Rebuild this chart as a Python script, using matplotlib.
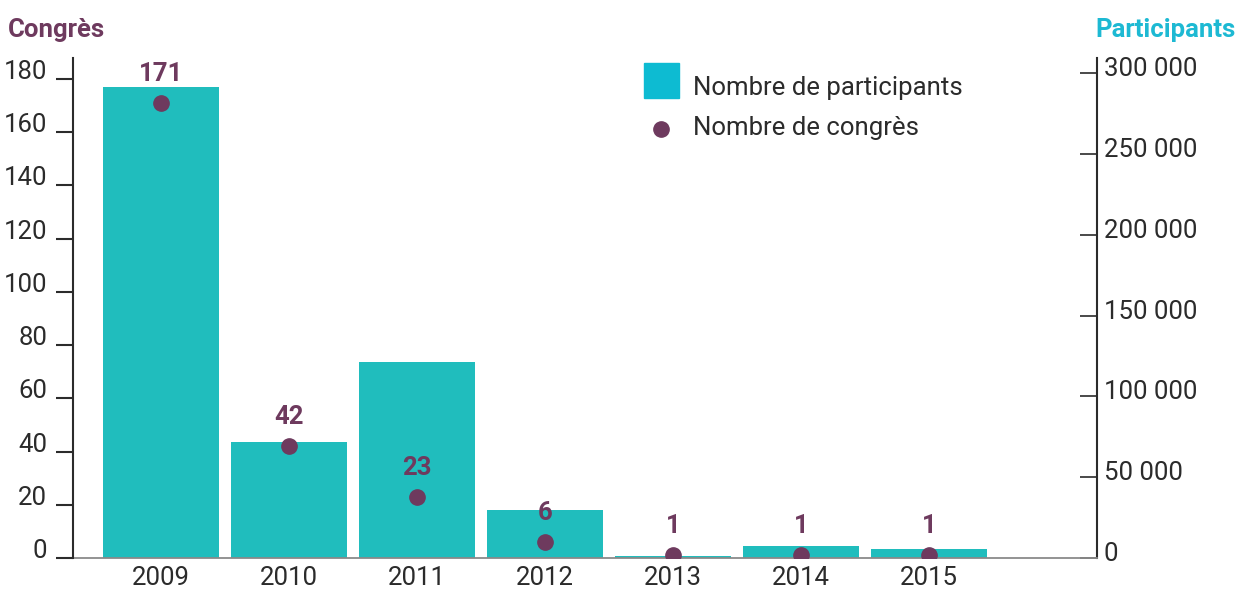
import matplotlib
matplotlib.use("Agg")
import matplotlib.pyplot as plt
from matplotlib.patches import Rectangle
from matplotlib.lines import Line2D
import matplotlib.transforms as mtransforms

years = ["2009", "2010", "2011", "2012", "2013", "2014", "2015"]
participants = [291600, 72000, 121000, 30000, 1500, 7700, 5300]
congres = [171, 42, 23, 6, 1, 1, 1]
left_ticks = [0, 20, 40, 60, 80, 100, 120, 140, 160, 180]
right_ticks = [0, 50000, 100000, 150000, 200000, 250000, 300000]
right_labels = ["0", "50 000", "100 000", "150 000", "200 000", "250 000", "300 000"]

BAR = "#20BDBD"
LEG_BAR = "#0DBBD2"
PURPLE = "#6E3A5E"
CYAN = "#1DB9D3"
DARK = "#2b2b2b"
FONT = "Roboto"
FS = 18.5

plt.rcParams['font.family'] = [FONT, 'DejaVu Sans']

fig = plt.figure(figsize=(12.38, 5.90), dpi=100)
ax = fig.add_axes([73/1238, 1-558/590, (1097-73)/1238, 500/590])
ax2 = ax.twinx()

x = list(range(len(years)))
ax.bar(x, participants, width=0.906, color=BAR, zorder=2)
ax.set_xlim(-0.6875, 7.3125)
ax.set_ylim(0, 309300)

ax.yaxis.tick_right()
ax.set_yticks(right_ticks)
ax.set_yticklabels(right_labels)
ax.tick_params(axis='y', which='both', left=False, labelleft=False, right=True, labelright=True,
               direction='in', length=12.5, width=1.2, color=DARK,
               labelsize=FS, labelcolor=DARK, pad=5)
for lab in ax.get_yticklabels():
    lab.set_transform(lab.get_transform() + mtransforms.ScaledTranslation(0, 6.5/100, fig.dpi_scale_trans))

ax.set_xticks(x)
ax.set_xticklabels(years)
ax.tick_params(axis='x', length=0, labelsize=FS, labelcolor=DARK, pad=6)

ax.spines['top'].set_visible(False)
ax.spines['left'].set_visible(False)
ax.spines['right'].set_color(DARK)
ax.spines['right'].set_linewidth(1.5)
ax.spines['bottom'].set_color("#8a8a8a")
ax.spines['bottom'].set_linewidth(1.3)

ax2.yaxis.tick_left()
ax2.set_ylim(0, 187.9)
ax2.set_yticks(left_ticks)
ax2.tick_params(axis='y', which='both', right=False, labelright=False, left=True, labelleft=True,
                direction='out', length=12.5, width=1.5, color=DARK,
                labelsize=FS, labelcolor=DARK, pad=6)
for lab in ax2.get_yticklabels():
    lab.set_verticalalignment('baseline')
for s in ['top', 'right', 'bottom']:
    ax2.spines[s].set_visible(False)
ax2.spines['left'].set_visible(True)
ax2.spines['left'].set_color(DARK)
ax2.spines['left'].set_linewidth(1.5)

ax2.plot(x, congres, 'o', color=PURPLE, markersize=11, zorder=3)
for xi, v in zip(x, congres):
    ax2.annotate(str(v), (xi, v), xytext=(0, 21), textcoords='offset points',
                 ha='center', va='center', fontsize=FS, color=PURPLE, fontweight='semibold')

# axis titles
fig.text(8/1238, 1-30/590, "Congrès", fontsize=FS, color=PURPLE, fontweight='semibold',
         ha='left', va='center')
fig.text(1236/1238, 1-30/590, "Participants", fontsize=FS, color=CYAN, fontweight='semibold',
         ha='right', va='center')

# legend
fig.patches.append(Rectangle((644/1238, 1-98/590), 35/1238, 35/590,
                             transform=fig.transFigure, color=LEG_BAR))
fig.lines.append(Line2D([661/1238], [1-129/590], marker='o', markersize=11,
                        color=PURPLE, linestyle='none', transform=fig.transFigure))
fig.text(693/1238, 1-88/590, "Nombre de participants", fontsize=FS, color=DARK,
         ha='left', va='center')
fig.text(693/1238, 1-128/590, "Nombre de congrès", fontsize=FS, color=DARK,
         ha='left', va='center')

fig.savefig("out.png", dpi=100)
